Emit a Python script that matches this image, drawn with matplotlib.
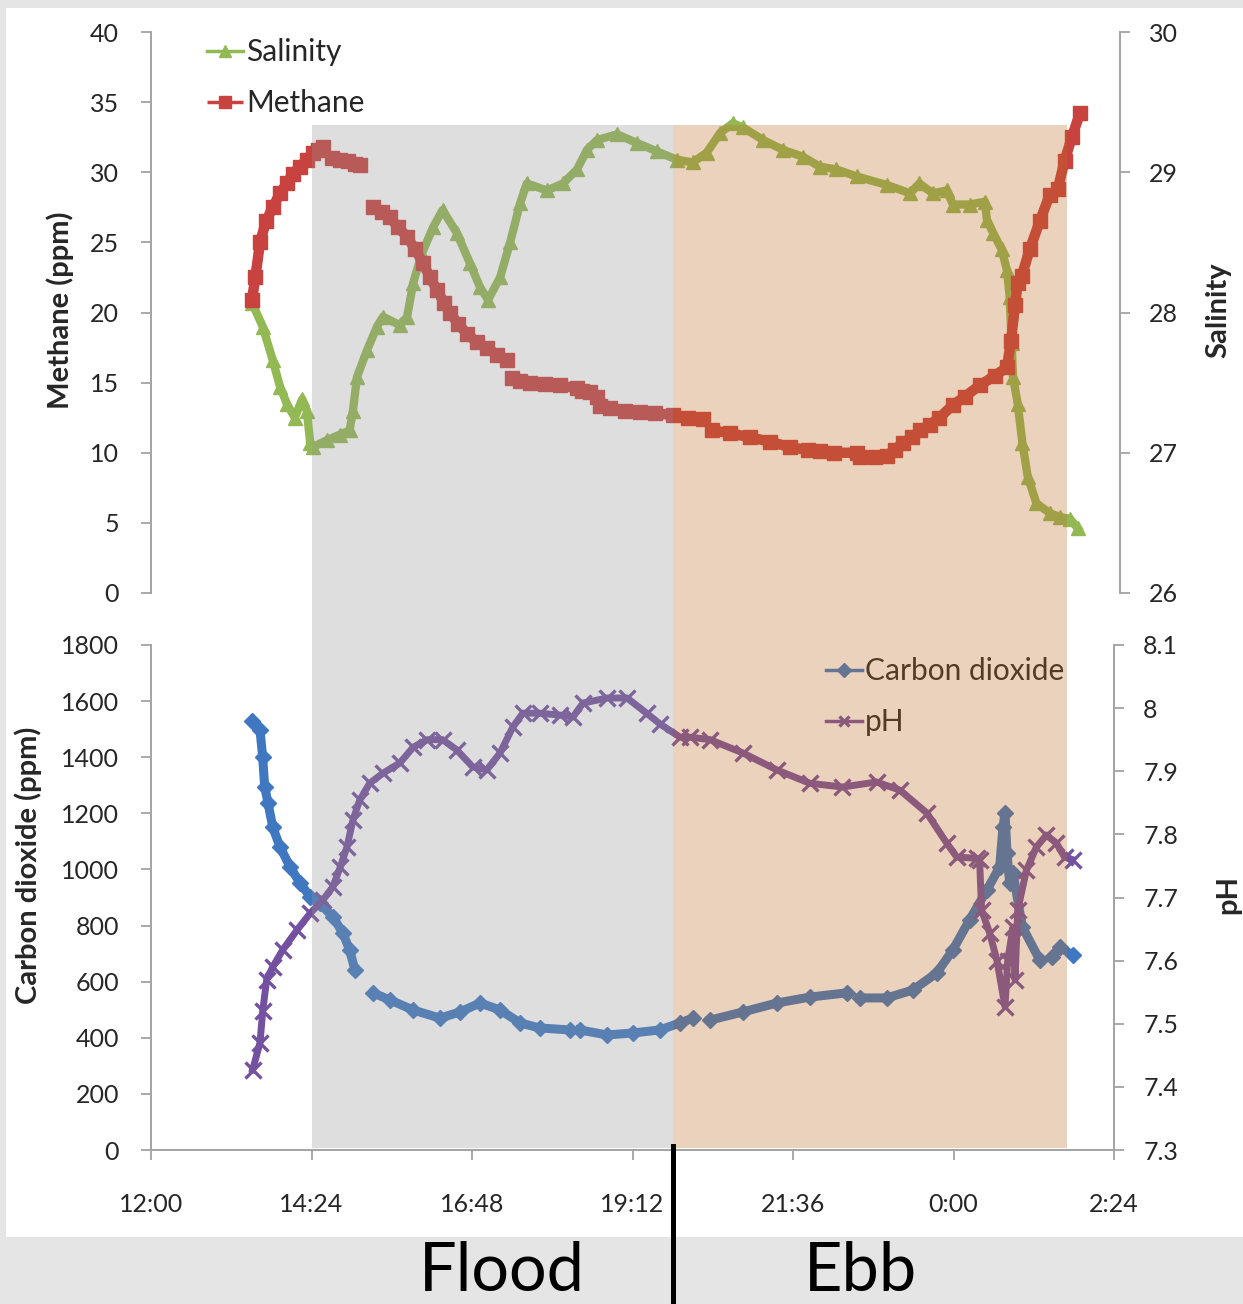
import numpy as np
import matplotlib
matplotlib.use("Agg")
import matplotlib.pyplot as plt
from matplotlib.patches import Rectangle
from matplotlib.lines import Line2D

plt.rcParams['font.family'] = ['Lato', 'DejaVu Sans']

nan = np.nan
# ---------------- data (time in decimal hours, >24 = after midnight) ----------------
methane_t = [13.51, 13.56, 13.63, 13.72, 13.82, 13.93, 14.03, 14.12, 14.23, 14.33, 14.42, 14.50, 14.57, nan,
             14.71, 14.83, 14.95, 15.05, 15.12, nan,
             15.32, 15.45, 15.57, 15.69, 15.83, 15.95, 16.07, 16.17, 16.28, 16.38, 16.47, 16.59, 16.72, 16.87,
             17.02, 17.17, 17.32, nan,
             17.40, 17.52, 17.67, 17.89, 18.11, 18.37, 18.44, 18.56, 18.67, 18.71, 18.86, 19.09, 19.31, 19.53,
             19.80, 20.03, 20.25, nan,
             20.39, 20.66, 20.95, 21.25, 21.55, 21.82, 22.00, 22.22, 22.55, nan,
             22.60, 22.82, 23.00, 23.12, 23.24, 23.38, 23.50, 23.65, 23.79, 23.99, 24.17, 24.39, 24.62, 24.80,
             24.86, 24.92, 24.96, nan,
             25.02, 25.14, 25.29, 25.44, nan,
             25.56, 25.66, 25.77, 25.89]
methane_ppm = [20.9, 22.5, 25.0, 26.5, 27.5, 28.5, 29.2, 29.9, 30.4, 30.9, 31.4, 31.6, 31.8, nan,
               31.0, 30.9, 30.8, 30.6, 30.5, nan,
               27.5, 27.2, 26.8, 26.1, 25.4, 24.5, 23.5, 22.5, 21.6, 20.7, 20.0, 19.2, 18.5, 17.9,
               17.5, 17.0, 16.6, nan,
               15.3, 15.1, 15.0, 14.9, 14.8, 14.6, 14.4, 14.3, 14.0, 13.3, 13.2, 13.0, 12.9, 12.8,
               12.7, 12.5, 12.4, nan,
               11.6, 11.4, 11.1, 10.8, 10.4, 10.2, 10.1, 10.0, 10.0, nan,
               9.7, 9.7, 9.8, 10.2, 10.7, 11.1, 11.6, 12.0, 12.5, 13.4, 14.0, 14.8, 15.5, 16.1,
               18.0, 20.5, 22.1, nan,
               22.6, 24.5, 26.5, 28.4, nan,
               28.8, 30.8, 32.5, 34.2]

salinity_t = [13.51, 13.67, 13.82, 13.93, 14.03, 14.15, 14.26, 14.33, 14.38, 14.42, 14.63, 14.83, 14.97,
              15.02, 15.08, 15.23, 15.38, 15.47, 15.72, 15.83, 15.92, 16.05, 16.22, 16.36, 16.57, 16.77,
              16.92, 17.04, 17.22, 17.37, 17.52, 17.62, 17.92, 18.16, 18.37, 18.52, 18.67, 18.97, 19.26,
              19.56, 19.86, 20.10, 20.31, 20.51, 20.70, 20.85, 21.15, 21.45, 21.75, 22.00, 22.25, 22.55,
              23.00, 23.35, 23.49, 23.69, 23.90, 23.99, 24.24, 24.47, 24.50, 24.59, 24.72, 24.80, 24.84,
              24.87, 24.89, 24.96, 25.03, 25.11, 25.24, 25.44, 25.59, 25.74, 25.86]
salinity = [28.07, 27.90, 27.66, 27.47, 27.35, 27.25, 27.38, 27.30, 27.07, 27.04, 27.09, 27.13, 27.16,
            27.30, 27.54, 27.73, 27.90, 27.97, 27.91, 27.97, 28.21, 28.42, 28.61, 28.73, 28.57, 28.35,
            28.18, 28.09, 28.25, 28.50, 28.78, 28.92, 28.87, 28.92, 29.02, 29.16, 29.23, 29.27, 29.21,
            29.15, 29.09, 29.07, 29.14, 29.28, 29.35, 29.32, 29.23, 29.16, 29.11, 29.04, 29.02, 28.97,
            28.91, 28.85, 28.92, 28.85, 28.87, 28.77, 28.77, 28.79, 28.66, 28.57, 28.45, 28.30, 28.11,
            27.78, 27.54, 27.35, 27.07, 26.83, 26.64, 26.57, 26.54, 26.53, 26.46]

co2_t = [13.51, 13.63, 13.67, 13.70, 13.75, 13.82, 13.93, 14.08, 14.23, 14.38, 14.52, 14.72, 14.87, 14.97,
         15.05, nan,
         15.32, 15.57, 15.92, 16.32, 16.62, 16.92, 17.22, 17.52, 17.81, 18.26, nan,
         18.41, 18.82, 19.20, 19.61, 19.91, 20.10, nan,
         20.36, 20.85, 21.36, 21.85, 22.40, nan,
         22.60, 23.00, 23.39, 23.75, 23.99, 24.24, 24.50, 24.69, 24.74, 24.77, 24.80, 24.84, 24.89,
         25.03, 25.29, nan,
         25.48, 25.59, 25.78]
co2_ppm = [1530, 1497, 1400, 1294, 1237, 1151, 1080, 1009, 951, 903, 880, 831, 773, 713,
           641, nan,
           560, 535, 499, 470, 492, 524, 499, 453, 435, 428, nan,
           428, 410, 417, 428, 453, 470, nan,
           463, 492, 524, 545, 560, nan,
           542, 542, 570, 631, 713, 820, 927, 1009, 1151, 1201, 1059, 951, 987,
           795, 677, nan,
           688, 723, 695]

ph_t = [13.52, 13.63, 13.67, 13.73, 13.82, 13.97, 14.18, 14.38, 14.57, 14.72, 14.83, 14.93, 15.02, 15.12,
        15.27, 15.47, 15.72, 15.92, 16.13, 16.36, 16.57, 16.81, 17.02, 17.22, 17.41, 17.56, 17.81, 18.11,
        18.31, 18.46, 18.82, 19.12, 19.41, 19.61, 19.91, 20.06, 20.36, 20.85, 21.36, 21.85, 22.34, 22.85,
        23.20, 23.60, 23.90, 24.05, 24.35, 24.39, 24.42, 24.54, 24.65, 24.77, 24.81, 24.89, 24.92, 24.96,
        25.09, 25.24, 25.39, 25.54, 25.66, 25.78]
ph = [7.427, 7.47, 7.52, 7.57, 7.59, 7.617, 7.648, 7.675, 7.696, 7.717, 7.748, 7.78, 7.823, 7.854,
      7.881, 7.897, 7.913, 7.938, 7.95, 7.95, 7.934, 7.907, 7.902, 7.929, 7.97, 7.992, 7.992, 7.989,
      7.986, 8.008, 8.016, 8.016, 7.992, 7.975, 7.954, 7.954, 7.95, 7.929, 7.902, 7.881, 7.875, 7.883,
      7.87, 7.834, 7.786, 7.764, 7.762, 7.76, 7.68, 7.644, 7.60, 7.527, 7.60, 7.653, 7.57, 7.68,
      7.743, 7.78, 7.799, 7.786, 7.764, 7.76]

x_ticks = [12.0, 14.4, 16.8, 19.2, 21.6, 24.0, 26.4]
x_labels = ["12:00", "14:24", "16:48", "19:12", "21:36", "0:00", "2:24"]
flood_span = (14.40, 19.80)
ebb_span = (19.80, 25.70)

# ---------------- layout ----------------
W, H = 1243, 1304
fig = plt.figure(figsize=(W / 100, H / 100), dpi=100, facecolor='#e5e5e5')

def fx(p):
    return p / W

def fy(p):
    return 1 - p / H

fig.add_artist(Rectangle((fx(6), fy(1237)), 1 - fx(6), fy(8) - fy(1237), transform=fig.transFigure,
                         facecolor='white', edgecolor='none', zorder=-10))

ax_l, ax_r = 151, 1114
top_ax = fig.add_axes([fx(ax_l), fy(593), fx(ax_r) - fx(ax_l), fy(32) - fy(593)])
bot_ax = fig.add_axes([fx(ax_l), fy(1150), fx(ax_r) - fx(ax_l), fy(645) - fy(1150)])
top_sal = top_ax.twinx()
bot_ph = bot_ax.twinx()

top_sal.set_zorder(1)
top_ax.set_zorder(2)
bot_ax.set_zorder(1)
bot_ph.set_zorder(2)
for a in (top_ax, top_sal, bot_ax, bot_ph):
    a.patch.set_visible(False)

SPINE = '#a3a3a3'
TXT = '#262626'
c_sal = '#93b954'
c_met = '#c8423f'
c_co2 = '#3f78c0'
c_ph = '#7451a0'

for a in (top_ax, top_sal, bot_ax, bot_ph):
    a.set_xlim(12.0, 26.4)
    for s in a.spines.values():
        s.set_visible(False)

top_ax.spines['left'].set_visible(True)
top_sal.spines['right'].set_visible(True)
top_sal.spines['right'].set_position(('outward', 4))
bot_ax.spines['left'].set_visible(True)
bot_ax.spines['bottom'].set_visible(True)
bot_ph.spines['right'].set_visible(True)
for a in (top_ax, top_sal, bot_ax, bot_ph):
    for s in a.spines.values():
        s.set_color(SPINE)
        s.set_linewidth(1.4)

# series
top_ax.plot(methane_t, methane_ppm, color=c_met, lw=7.5, marker='s', ms=9.5, mec=c_met,
            solid_capstyle='butt', solid_joinstyle='round', label='Methane')
top_sal.plot(salinity_t, salinity, color=c_sal, lw=6.0, marker='^', ms=10, mec=c_sal,
             solid_joinstyle='round', label='Salinity')
bot_ax.plot(co2_t, co2_ppm, color=c_co2, lw=6.5, marker='D', ms=8, mec=c_co2,
            solid_joinstyle='round', label='Carbon dioxide')
bot_ph.plot(ph_t, ph, color=c_ph, lw=5.0, marker='x', ms=11, mew=2.4, mec=c_ph,
            solid_joinstyle='round', label='pH')

top_ax.set_ylim(0, 40)
top_ax.set_yticks(np.arange(0, 41, 5))
top_sal.set_ylim(26, 30)
top_sal.set_yticks([26, 27, 28, 29, 30])
bot_ax.set_ylim(0, 1800)
bot_ax.set_yticks(np.arange(0, 1801, 200))
bot_ph.set_ylim(7.3, 8.1)
ph_ticks = [7.3, 7.4, 7.5, 7.6, 7.7, 7.8, 7.9, 8.0, 8.1]
bot_ph.set_yticks(ph_ticks)
bot_ph.set_yticklabels(['%g' % v for v in ph_ticks])

bot_ax.set_xticks(x_ticks)
bot_ax.set_xticklabels(x_labels)
for a in (top_ax, top_sal, bot_ph):
    a.tick_params(axis='x', bottom=False, labelbottom=False, top=False, labeltop=False)

FS = 18
tick_kw = dict(direction='out', length=7, width=1.3, color=SPINE, labelsize=FS, labelcolor=TXT)
top_ax.tick_params(axis='y', pad=16, **tick_kw)
bot_ax.tick_params(axis='y', pad=16, **tick_kw)
top_sal.tick_params(axis='y', pad=14, **tick_kw)
bot_ph.tick_params(axis='y', pad=14, **tick_kw)
bot_ax.tick_params(axis='x', pad=24, **tick_kw)

# axis titles
YL = 21
fig.text(fx(60), fy(310), 'Methane (ppm)', rotation=90, ha='center', va='center',
         fontsize=YL, fontweight='bold', color=TXT)
fig.text(fx(28), fy(865), 'Carbon dioxide (ppm)', rotation=90, ha='center', va='center',
         fontsize=YL, fontweight='bold', color=TXT)
fig.text(fx(1218), fy(310), 'Salinity', rotation=90, ha='center', va='center',
         fontsize=YL, fontweight='bold', color=TXT)
fig.text(fx(1228), fy(895), 'pH', rotation=90, ha='center', va='center',
         fontsize=YL, fontweight='bold', color=TXT)

# legends
h_sal, = top_sal.get_lines()
h_met, = top_ax.get_lines()
leg_kw = dict(loc='upper left', bbox_transform=fig.transFigure, frameon=False, fontsize=21.5,
              handlelength=1.2, handletextpad=0.1, labelspacing=0.78, borderpad=0,
              borderaxespad=0, labelcolor=TXT)
lg1 = top_ax.legend([h_sal, h_met], ['Salinity', 'Methane'], bbox_to_anchor=(fx(207), fy(38)), **leg_kw)
for ln in lg1.get_lines():
    ln.set_linewidth(2.5)
    ln.set_markersize(8)

h_co2, = bot_ax.get_lines()
h_ph, = bot_ph.get_lines()
lg2 = bot_ph.legend([h_co2, h_ph], ['Carbon dioxide', 'pH'], bbox_to_anchor=(fx(826), fy(657)), **leg_kw)
for ln in lg2.get_lines():
    ln.set_linewidth(2.5)
    ln.set_markersize(7)

# tidal phase shading (overlaid, spans both panels)
def tx(h):
    return fx(ax_l) + (h - 12.0) / 14.4 * (fx(ax_r) - fx(ax_l))

y0, y1 = fy(1148), fy(125)
fig.add_artist(Rectangle((tx(flood_span[0]), y0), tx(flood_span[1]) - tx(flood_span[0]), y1 - y0,
                         transform=fig.transFigure, facecolor='#949494', alpha=0.30,
                         edgecolor='none', zorder=5))
fig.add_artist(Rectangle((tx(ebb_span[0]), y0), tx(ebb_span[1]) - tx(ebb_span[0]), y1 - y0,
                         transform=fig.transFigure, facecolor='#c06c26', alpha=0.30,
                         edgecolor='none', zorder=5))

# Flood / Ebb labels and divider
fig.add_artist(Line2D([tx(flood_span[1]), tx(flood_span[1])], [fy(1146), 0], transform=fig.transFigure,
                      color='black', lw=3.6, zorder=6))
fig.text(fx(502), fy(1303), 'Flood', ha='center', va='bottom', fontsize=48, color='black')
fig.text(fx(860), fy(1303), 'Ebb', ha='center', va='bottom', fontsize=48, color='black')

fig.savefig('out.png', dpi=100, facecolor=fig.get_facecolor())
